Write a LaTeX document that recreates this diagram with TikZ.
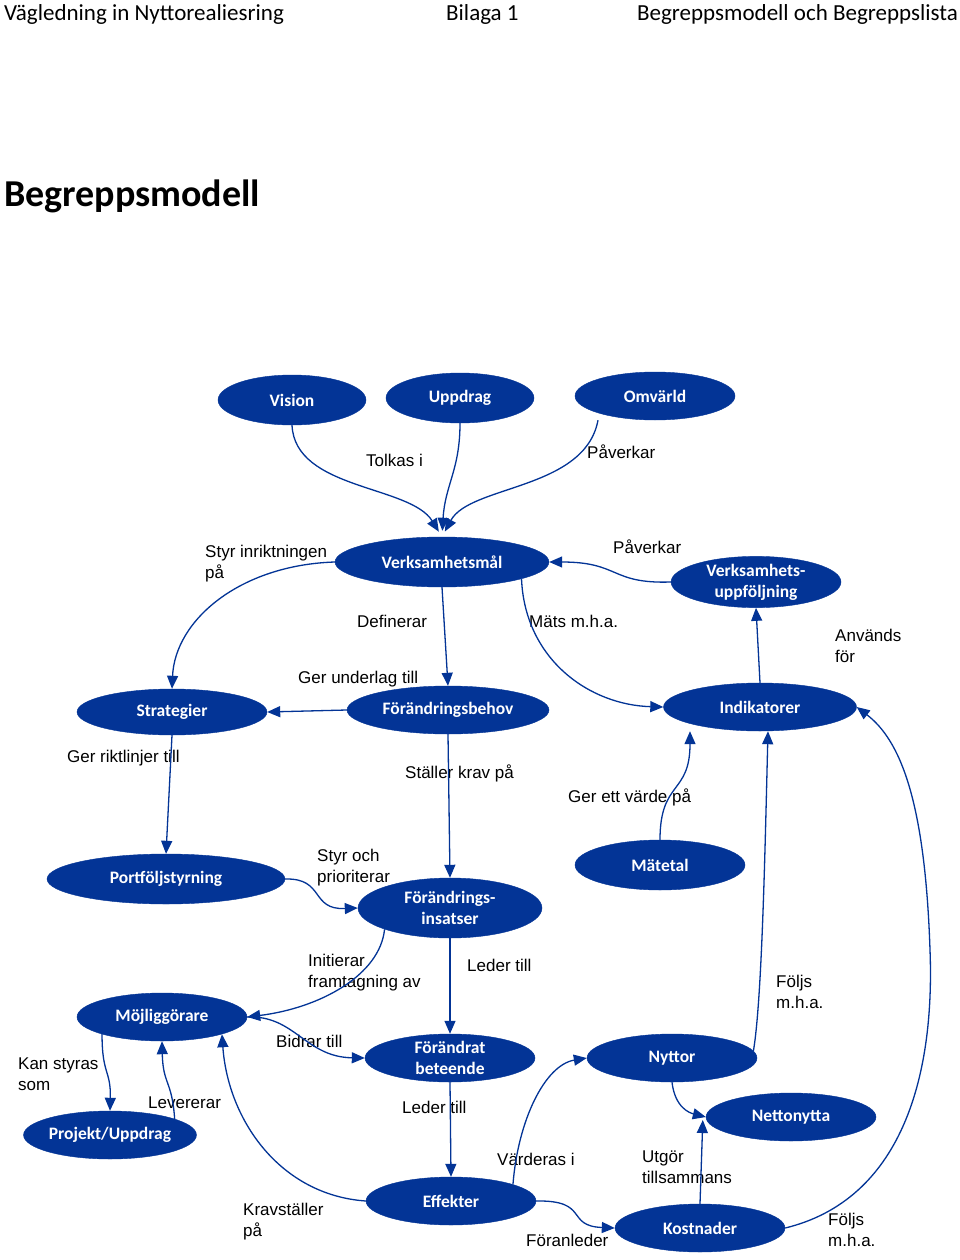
\documentclass[tikz,border=0pt]{standalone}
\usepackage{fontspec}
\setmainfont{Carlito}
\newfontfamily\arial{Liberation Sans}
\usetikzlibrary{shapes.geometric,arrows.meta}
\definecolor{mork}{RGB}{3,52,150}

\begin{document}
\begin{tikzpicture}[
  x=1pt, y=-1pt,
  begrepp/.style={ellipse, fill=mork, draw=mork, text=white, align=center,
                  inner sep=0pt, font=\bfseries\fontsize{17.5}{21}\selectfont,
                  minimum width=170pt, minimum height=48pt},
  etikett/.style={anchor=west, align=left, inner sep=0pt,
                  font=\arial\fontsize{17}{21}\selectfont},
  huvud/.style={anchor=base west, inner sep=0pt, font=\fontsize{23}{27}\selectfont},
  relation/.style={draw=mork, line width=1.3pt, -{Triangle[length=13pt,width=11pt]}}
]

% ---- sida: vit bakgrund och fasta marginaler ------------------------
\fill[white] (0,0) rectangle (960,1260);
\useasboundingbox (0,0) rectangle (960,1260);

% ---- sidhuvud och rubrik --------------------------------------------
\node[huvud] (sidhuvud-v) at (4,21) {Vägledning in Nyttorealiesring};
\node[huvud] (sidhuvud-m) at (446,21) {Bilaga 1};
\node[huvud, anchor=base east] (sidhuvud-h) at (958,21) {Begreppsmodell och Begreppslista};
\node[huvud, font=\bfseries\fontsize{38}{45}\selectfont] (rubrik) at (4,207) {Begreppsmodell};

% ---- begrepp ---------------------------------------------------------
\node[begrepp, minimum width=148pt, minimum height=50pt] (vision)  at (292,400) {Vision};
\node[begrepp, minimum width=148pt, minimum height=50pt] (uppdrag) at (460,398) {Uppdrag};
\node[begrepp, minimum width=160pt] (omvarld) at (655,396) {Omvärld};

\node[begrepp, minimum width=214pt, minimum height=50pt] (mal) at (442,562) {Verksamhetsmål};
\node[begrepp, minimum height=50pt] (uppfoljning) at (756,582) {Verksamhets-\\uppföljning};

\node[begrepp, minimum width=190pt, minimum height=46pt] (strategier) at (172,712) {Strategier};
\node[begrepp, minimum width=202pt] (behov) at (448,710) {Förändringsbehov};
\node[begrepp, minimum width=193pt] (indikatorer) at (760,707) {Indikatorer};

\node[begrepp, minimum width=238pt, minimum height=50pt] (portfolj) at (166,879) {Portföljstyrning};
\node[begrepp, minimum width=184pt, minimum height=60pt] (insatser) at (450,908) {Förändrings-\\insatser};
\node[begrepp, minimum height=50pt] (matetal) at (660,865) {Mätetal};

\node[begrepp] (mojliggorare) at (162,1017) {Möjliggörare};
\node[begrepp] (beteende)     at (450,1058) {Förändrat\\beteende};
\node[begrepp] (nyttor)       at (672,1058) {Nyttor};
\node[begrepp] (nettonytta)   at (791,1117) {Nettonytta};
\node[begrepp, minimum width=172pt] (projekt) at (110,1135) {Projekt/Uppdrag};
\node[begrepp] (effekter)     at (451,1201) {Effekter};
\node[begrepp] (kostnader)    at (700,1228) {Kostnader};

% ---- etiketter -------------------------------------------------------
\node[etikett] (l-tolkas)     at (366,460)  {Tolkas i};
\node[etikett] (l-paverkar1)  at (587,452)  {Påverkar};
\node[etikett] (l-styrinr)    at (205,564)  {Styr inriktningen\\på};
\node[etikett] (l-paverkar2)  at (613,547)  {Påverkar};
\node[etikett] (l-definerar)  at (357,621)  {Definerar};
\node[etikett] (l-mats)       at (529,621)  {Mäts m.h.a.};
\node[etikett] (l-anvands)    at (835,646)  {Används\\för};
\node[etikett] (l-underlag)   at (298,679)  {Ger underlag till};
\node[etikett] (l-riktlinjer) at (67,758)   {Ger riktlinjer till};
\node[etikett] (l-krav)       at (405,773)  {Ställer krav på};
\node[etikett] (l-varde)      at (568,797)  {Ger ett värde på};
\node[etikett] (l-styroch)    at (317,868)  {Styr och\\prioriterar};
\node[etikett] (l-initierar)  at (308,973)  {Initierar\\framtagning av};
\node[etikett] (l-leder1)     at (467,965)  {Leder till};
\node[etikett] (l-foljs1)     at (776,992)  {Följs\\m.h.a.};
\node[etikett] (l-bidrar)     at (276,1041) {Bidrar till};
\node[etikett] (l-kanstyras)  at (18,1074)  {Kan styras\\som};
\node[etikett] (l-levererar)  at (148,1103) {Levererar};
\node[etikett] (l-leder2)     at (402,1107) {Leder till};
\node[etikett] (l-varderas)   at (497,1159) {Värderas i};
\node[etikett] (l-utgor)      at (642,1167) {Utgör\\tillsammans};
\node[etikett] (l-krav2)      at (243,1222) {Kravställer\\på};
\node[etikett] (l-foranleder) at (526,1240) {Föranleder};
\node[etikett] (l-foljs2)     at (828,1230) {Följs\\m.h.a.};

% ---- relationer: övre delen ------------------------------------------
\draw[relation, shorten >=6pt] (vision.south) .. controls (295,490) and (410,485) .. (mal.north);
\draw[relation, shorten >=6pt] (uppdrag.south) .. controls (460,470) and (445,485) .. (mal.north);
\draw[relation, shorten >=6pt] ([xshift=-57pt]omvarld.south) .. controls (585,490) and (470,485) .. (mal.north);
\draw[relation] (mal.west) .. controls (240,565) and (175,620) .. (strategier.north);
\draw[relation] (mal.south) -- (behov.north);
\draw[relation] (behov.west) -- (strategier.east);
\draw[relation] (mal.-12) .. controls (525,660) and (590,705) .. (indikatorer.west);
\draw[relation] (uppfoljning.west) .. controls (610,584) and (620,562) .. (mal.east);
\draw[relation] (indikatorer.north) -- (uppfoljning.south);

% ---- relationer: mitten ----------------------------------------------
\draw[relation] (strategier.south) -- (portfolj.north);
\draw[relation] (behov.south) -- (insatser.north);
\draw[relation] (matetal.north) .. controls (660,780) and (690,795) .. ([xshift=-70pt]indikatorer.south);
\draw[relation] (portfolj.east) .. controls (325,878) and (310,910) .. (insatser.west);
\draw[relation] (insatser.-162) .. controls (380,975) and (320,1008) .. (mojliggorare.east);
\draw[relation] (mojliggorare.east) .. controls (295,1015) and (305,1057) .. (beteende.west);
\draw[relation] (insatser.south) -- (beteende.north);

% ---- relationer: nedre delen -----------------------------------------
\draw[relation] (beteende.south) -- (effekter.north);
\draw[relation] (mojliggorare.-164) .. controls (102,1075) and (111,1070) .. (projekt.north);
\draw[relation] (projekt.14) .. controls (172,1080) and (163,1085) .. (mojliggorare.south);
\draw[relation] (effekter.west) .. controls (280,1195) and (228,1120) .. (mojliggorare.-16);
\draw[relation] (effekter.15) .. controls (518,1120) and (545,1065) .. (nyttor.west);
\draw[relation] (effekter.east) .. controls (590,1200) and (565,1226) .. (kostnader.west);
\draw[relation] (nyttor.south) .. controls (675,1108) and (690,1113) .. (nettonytta.west);
\draw[relation] (kostnader.north) -- ([xshift=-3pt,yshift=-3pt]nettonytta.west);
\draw[relation] (nyttor.5) .. controls (762,1000) and (765,850) .. ([xshift=8pt]indikatorer.south);
\draw[relation] (kostnader.east) .. controls (900,1200) and (935,1080) .. (930,950)
                .. controls (925,800) and (900,740) .. (indikatorer.east);

\end{tikzpicture}
\end{document}
